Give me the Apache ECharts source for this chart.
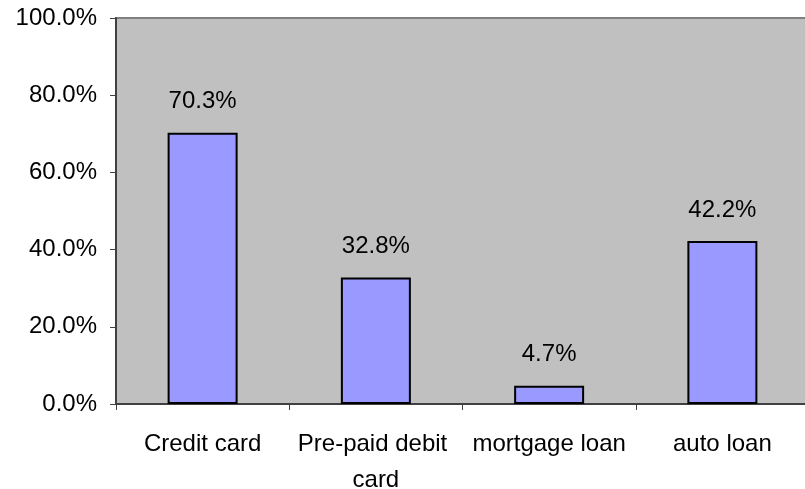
<!DOCTYPE html>
<html>
<head>
<meta charset="utf-8">
<script src="https://cdn.jsdelivr.net/npm/echarts@6/dist/echarts.min.js"></script>
<style>
  html, body { margin: 0; padding: 0; background: #fff; }
  #chart { width: 805px; height: 489px; }
</style>
</head>
<body>
<div id="chart"></div>
<script>
// Share of respondents by product type
const categories = ['Credit card', 'Pre-paid debit card', 'mortgage loan', 'auto loan'];
const shares = [70.3, 32.8, 4.7, 42.2];
const yTicks = { min: 0, max: 100, interval: 20 };

const FONT = '"Liberation Sans", Arial, sans-serif';
const FONT_SIZE = 24;

const chart = echarts.init(document.getElementById('chart'), null, { renderer: 'canvas' });
chart.setOption({
  animation: false,
  backgroundColor: '#ffffff',
  textStyle: { fontFamily: FONT },
  grid: {
    left: 116, top: 18, width: 693, height: 386,
    outerBoundsMode: 'none',
    containLabel: false,
    show: true,
    backgroundColor: '#C0C0C0',
    borderColor: '#808080',
    borderWidth: 2
  },
  xAxis: {
    type: 'category',
    data: categories,
    axisLine: { lineStyle: { color: '#404040', width: 2 } },
    axisTick: { show: true, length: 6, alignWithLabel: false, lineStyle: { color: '#404040', width: 1 } },
    axisLabel: {
      color: '#000', fontSize: FONT_SIZE, fontFamily: FONT, margin: 22,
      lineHeight: 36, width: 173, overflow: 'break', interval: 0
    },
    splitLine: { show: false }
  },
  yAxis: {
    type: 'value',
    min: yTicks.min, max: yTicks.max, interval: yTicks.interval,
    axisLine: { show: true, lineStyle: { color: '#404040', width: 2 } },
    axisTick: { show: true, length: 6, lineStyle: { color: '#404040', width: 1 } },
    axisLabel: {
      color: '#000', fontSize: FONT_SIZE, fontFamily: FONT, margin: 19,
      formatter: v => v.toFixed(1) + '%'
    },
    splitLine: { show: false }
  },
  series: [{
    type: 'bar',
    data: shares,
    barWidth: 70,
    itemStyle: { color: '#9999FF', borderColor: '#000', borderWidth: 2 },
    label: {
      show: true, position: 'top', distance: 19,
      color: '#000', fontSize: FONT_SIZE, fontFamily: FONT,
      formatter: p => p.value.toFixed(1) + '%'
    }
  }]
});
</script>
</body>
</html>
